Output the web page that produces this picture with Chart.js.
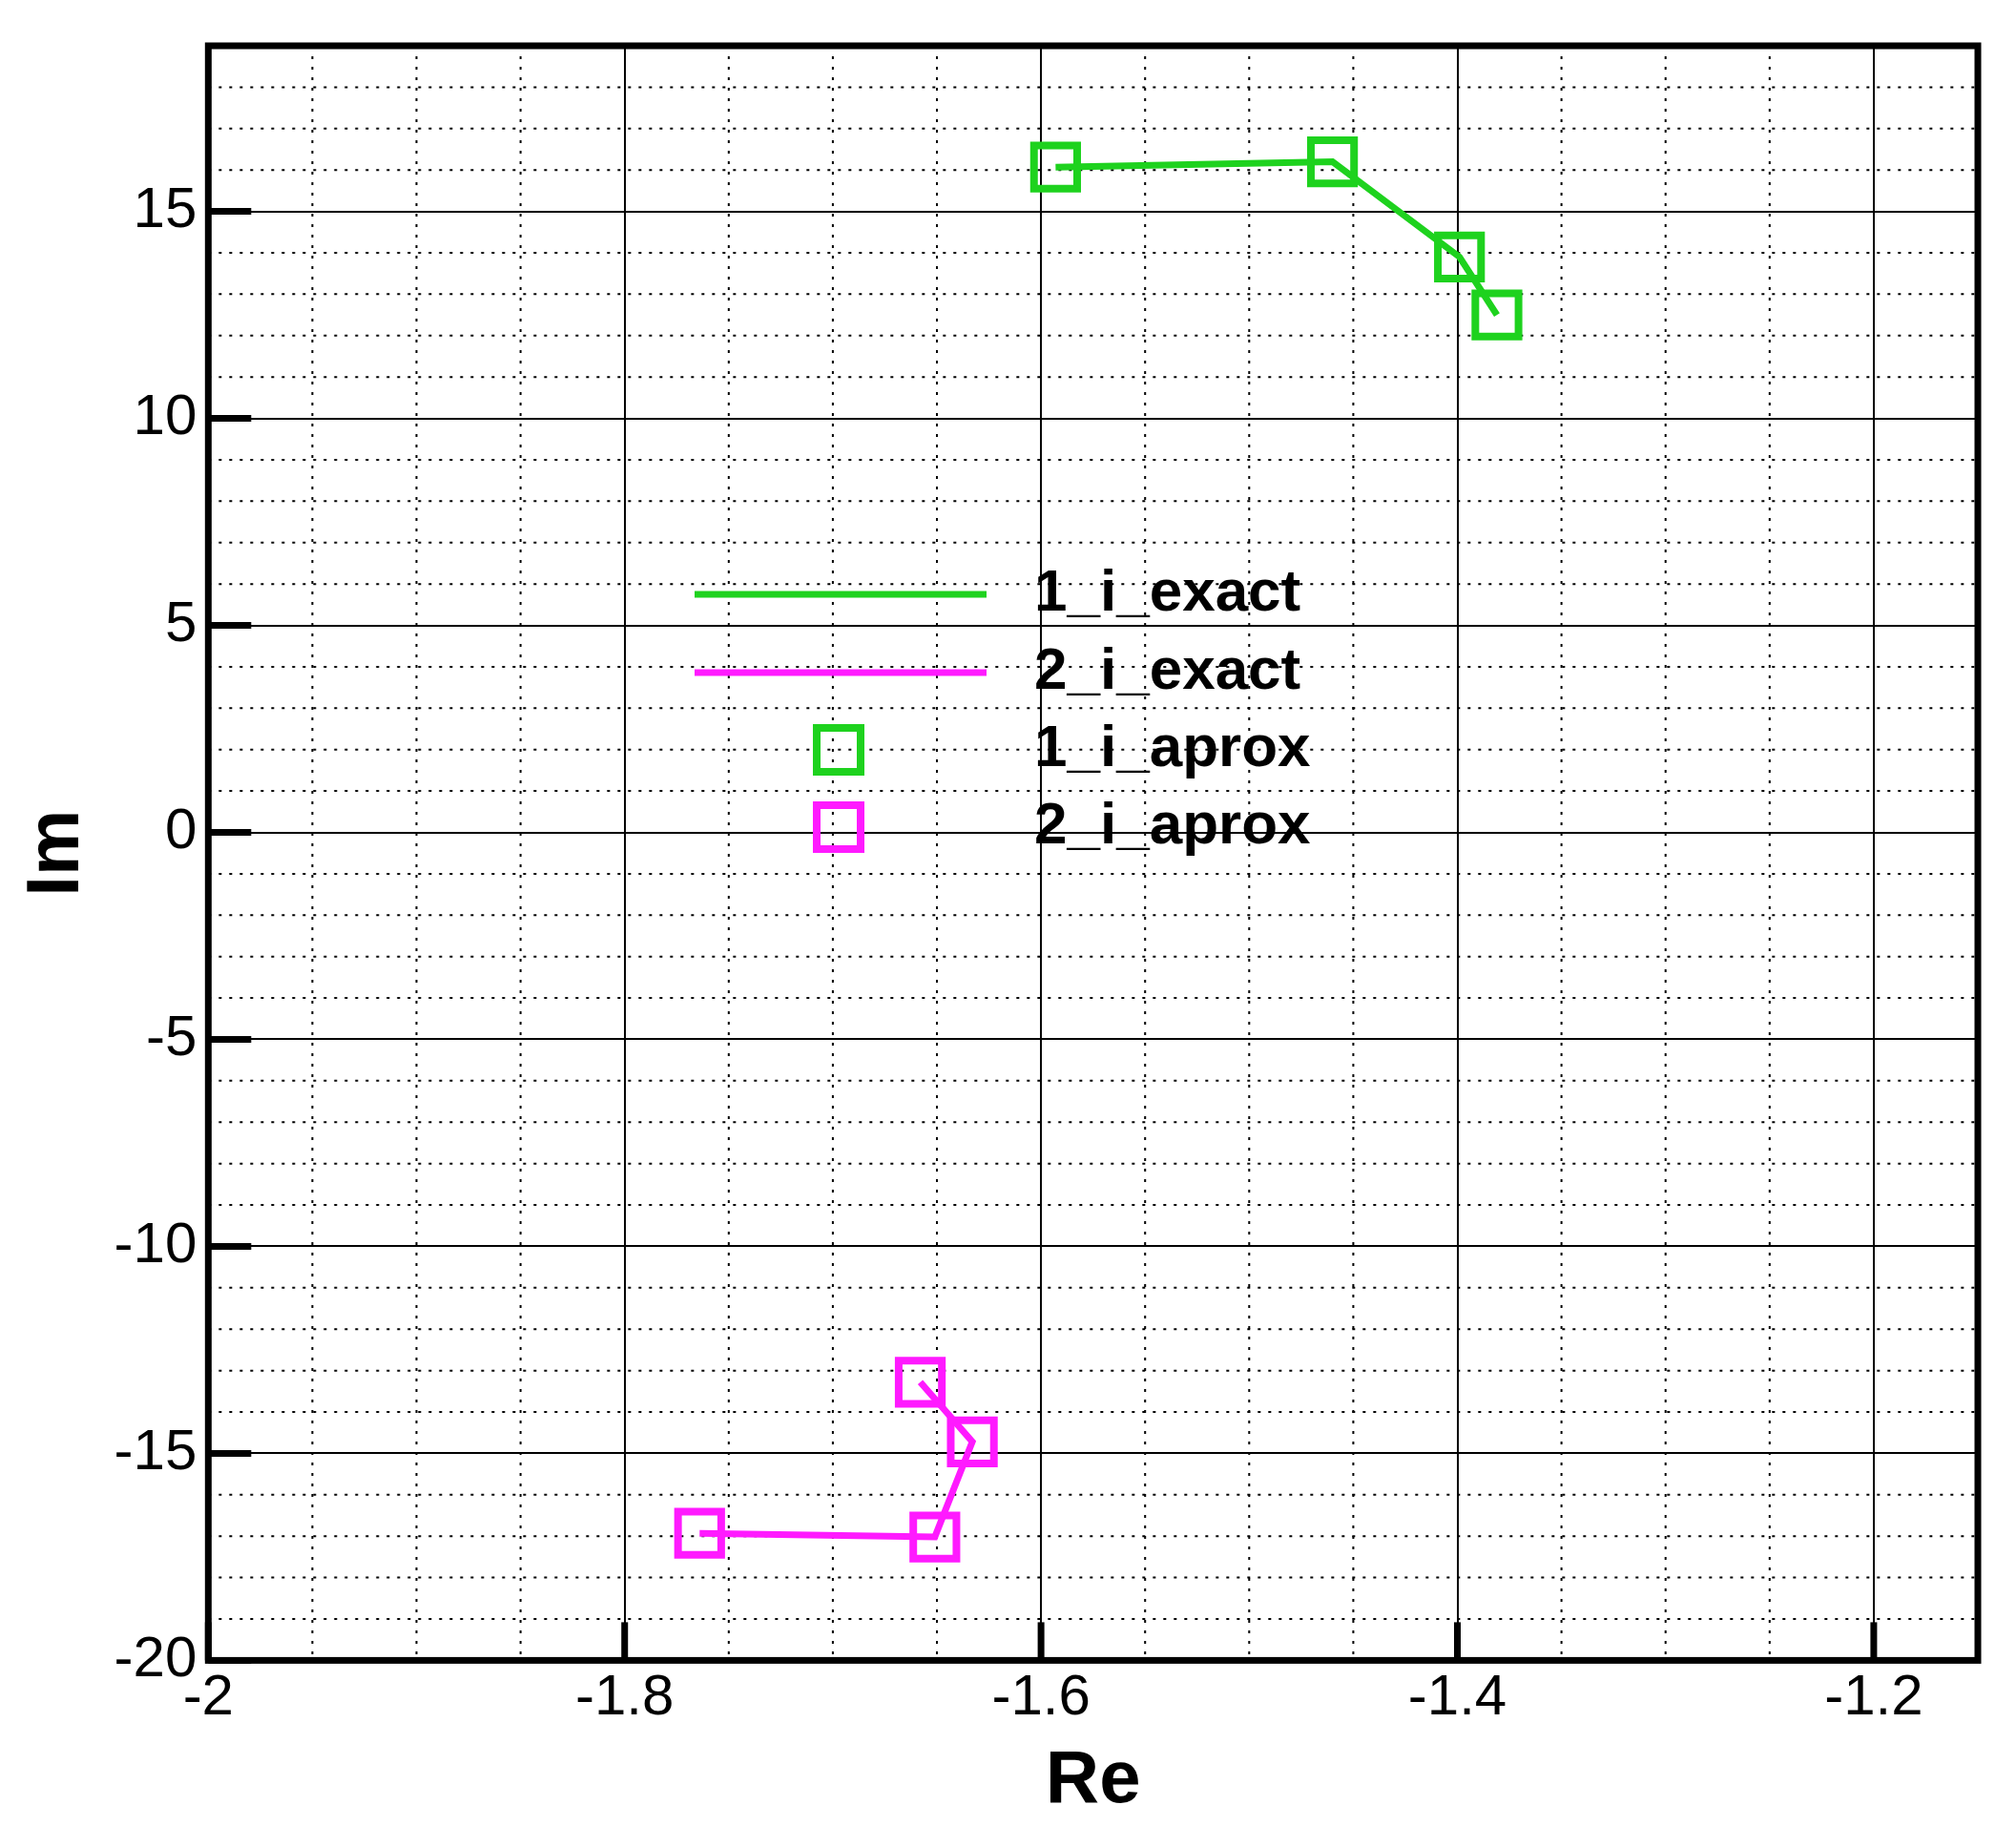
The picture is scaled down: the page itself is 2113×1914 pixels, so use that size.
<!DOCTYPE html>
<html>
<head>
<meta charset="utf-8">
<script src="https://cdn.jsdelivr.net/npm/chart.js@4"></script>
<style>
  body { margin: 0; background: #fff; }
  #chart { display: block; }
</style>
</head>
<body>
<canvas id="chart" width="2113" height="1914"></canvas>
<script>
// Data
const re1 = [-1.593, -1.460, -1.399, -1.381];
const im1 = [16.07, 16.2, 13.9, 12.5];
const re2 = [-1.764, -1.651, -1.633, -1.658];
const im2 = [-16.93, -17.02, -14.72, -13.28];
const seriesNames = ['1_i_exact', '2_i_exact', '1_i_aprox', '2_i_aprox'];
const xTicks = [-2, -1.8, -1.6, -1.4, -1.2];
const yTicks = [-20, -15, -10, -5, 0, 5, 10, 15];
const green = '#1ed21e';
const magenta = '#ff1aff';

const pts = (xs, ys) => xs.map((x, i) => ({ x: x, y: ys[i] }));

// Dotted minor grid + frame + legend inside plot
const tecplotStyle = {
    id: 'tecplotStyle',
    beforeDatasetsDraw(chart) {
        const { ctx, chartArea: a, scales: { x, y } } = chart;
        ctx.save();
        ctx.strokeStyle = '#000';
        ctx.lineWidth = 2;
        ctx.setLineDash([3, 8]);
        for (let i = 0; i * 0.05 <= 0.85 + 1e-9; i++) {
            if (i % 4 === 0) continue;
            const px = x.getPixelForValue(-2 + i * 0.05);
            ctx.beginPath(); ctx.moveTo(px, a.top); ctx.lineTo(px, a.bottom); ctx.stroke();
        }
        for (let v = -20; v <= 19; v += 1) {
            if (v % 5 === 0) continue;
            const py = y.getPixelForValue(v);
            ctx.beginPath(); ctx.moveTo(a.left, py); ctx.lineTo(a.right, py); ctx.stroke();
        }
        ctx.restore();
    },
    afterDraw(chart) {
        const { ctx, chartArea: a, scales: { x, y } } = chart;
        ctx.save();
        // inward major ticks
        ctx.strokeStyle = '#000';
        ctx.lineWidth = 7;
        x.ticks.forEach(t => {
            const px = x.getPixelForValue(t.value);
            ctx.beginPath(); ctx.moveTo(px, a.bottom); ctx.lineTo(px, a.bottom - 40); ctx.stroke();
        });
        y.ticks.forEach(t => {
            const py = y.getPixelForValue(t.value);
            ctx.beginPath(); ctx.moveTo(a.left, py); ctx.lineTo(a.left + 45, py); ctx.stroke();
        });
        ctx.strokeRect(a.left, a.top, a.right - a.left, a.bottom - a.top);

        // legend
        const colors = [green, magenta, green, magenta];
        const rows = [623, 705, 786, 867];
        ctx.font = 'bold 62px Arial, "Liberation Sans", sans-serif';
        ctx.textBaseline = 'middle';
        rows.forEach((ry, i) => {
            ctx.strokeStyle = colors[i];
            if (i < 2) {
                ctx.lineWidth = 7;
                ctx.beginPath(); ctx.moveTo(728, ry); ctx.lineTo(1034, ry); ctx.stroke();
            } else {
                ctx.lineWidth = 8;
                ctx.strokeRect(879 - 23, ry - 23, 46, 46);
            }
            ctx.fillStyle = '#000';
            ctx.fillText(seriesNames[i], 1084, ry);
        });
        ctx.restore();
    }
};

const tickFont = { family: 'Arial, "Liberation Sans", sans-serif', size: 60 };
const titleFont = { family: 'Arial, "Liberation Sans", sans-serif', size: 78, weight: 'bold' };
const fixTicks = (vals) => (scale) => { scale.ticks = vals.map(v => ({ value: v })); };

new Chart(document.getElementById('chart'), {
    type: 'scatter',
    data: {
        datasets: [
            { label: seriesNames[0], data: pts(re1, im1), showLine: true, borderColor: green, borderWidth: 7, pointRadius: 0 },
            { label: seriesNames[1], data: pts(re2, im2), showLine: true, borderColor: magenta, borderWidth: 7, pointRadius: 0 },
            { label: seriesNames[2], data: pts(re1, im1), pointStyle: 'rect', pointRadius: 32, borderColor: green, borderWidth: 8, backgroundColor: 'transparent' },
            { label: seriesNames[3], data: pts(re2, im2), pointStyle: 'rect', pointRadius: 32, borderColor: magenta, borderWidth: 8, backgroundColor: 'transparent' }
        ]
    },
    options: {
        responsive: false,
        animation: false,
        layout: { padding: { top: 6, right: 0, left: 14, bottom: 0 } },
        plugins: { legend: { display: false }, tooltip: { enabled: false } },
        scales: {
            x: {
                min: -2, max: -1.15,
                afterBuildTicks: fixTicks(xTicks),
                ticks: { color: '#000', font: tickFont, padding: 4,
                    callback: v => String(Number(v.toFixed(2))) },
                grid: { color: '#000', lineWidth: 2, drawTicks: false },
                border: { display: false },
                title: { display: true, text: 'Re', color: '#000', font: titleFont, padding: 0 }
            },
            y: {
                min: -20, max: 19,
                afterBuildTicks: fixTicks(yTicks),
                ticks: { color: '#000', font: tickFont, padding: 12 },
                grid: { color: '#000', lineWidth: 2, drawTicks: false },
                border: { display: false },
                title: { display: true, text: 'Im', color: '#000', font: titleFont, padding: 0 }
            }
        }
    },
    plugins: [tecplotStyle]
});
</script>
</body>
</html>
